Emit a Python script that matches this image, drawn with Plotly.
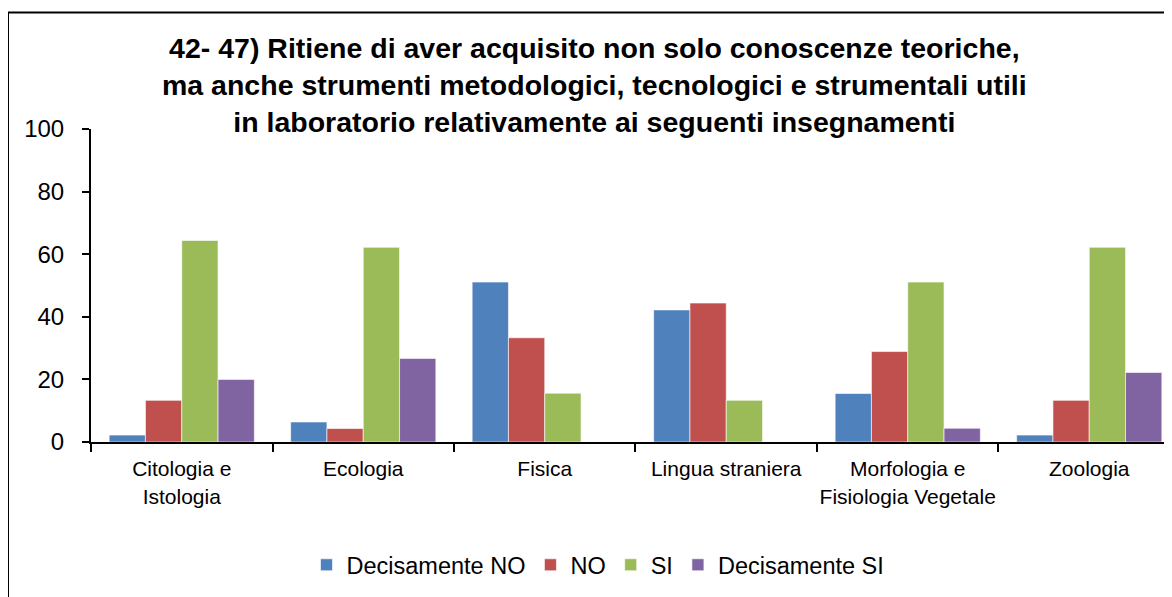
import plotly.graph_objects as go

categories = ["Citologia e<br>Istologia", "Ecologia", "Fisica", "Lingua straniera",
              "Morfologia e<br>Fisiologia Vegetale", "Zoologia"]
series_names = ["Decisamente NO", "NO", "SI", "Decisamente SI"]
dec_no = [2.2, 6.4, 51.1, 42.2, 15.5, 2.2]
no = [13.3, 4.3, 33.3, 44.4, 28.9, 13.3]
si = [64.4, 62.2, 15.6, 13.3, 51.1, 62.2]
dec_si = [20.0, 26.7, 0, 0, 4.4, 22.2]
colors = ["#4F81BD", "#C0504D", "#9BBB59", "#8064A2"]
yticks = [0, 20, 40, 60, 80, 100]

FONT = "Liberation Sans, Arial, sans-serif"

# figure pixel geometry (page has an 8px body margin)
L, T, B = 83, 121, 163
PW, PH = 1081, 313

fig = go.Figure()
for name, vals, col in zip(series_names, [dec_no, no, si, dec_si], colors):
    fig.add_trace(go.Bar(name=name, x=categories, y=vals,
                         marker=dict(color=col, line=dict(color="rgba(255,255,255,0.6)", width=1))))

fig.update_layout(
    width=1172, height=597,
    margin=dict(l=L, r=1172 - L - PW, t=T, b=B, pad=0),
    paper_bgcolor="white", plot_bgcolor="white",
    barmode="group", bargap=0.2, bargroupgap=0,
    font=dict(family=FONT, color="black"),
    showlegend=True,
    legend=dict(orientation="h", x=(590 - L) / PW, xanchor="center",
                y=(434 - 557) / PH, yanchor="middle",
                font=dict(size=23.5, family=FONT), itemwidth=30, tracegroupgap=0),
)
fig.update_xaxes(
    type="category", range=[-0.5, 5.456], tickangle=0,
    showline=True, linecolor="black", linewidth=2,
    ticks="outside", tickson="boundaries", ticklen=8, tickcolor="black", tickwidth=2,
    tickfont=dict(size=21, family=FONT), showgrid=False, ticklabelstandoff=7,
)
fig.update_yaxes(
    range=[0, 100], tickvals=yticks,
    showline=True, linecolor="black", linewidth=2,
    ticks="outside", ticklen=7, tickcolor="black", tickwidth=2,
    tickfont=dict(size=24, family=FONT), showgrid=False, zeroline=False,
    ticklabelstandoff=13,
)

fig.add_annotation(
    text="<b>42- 47) Ritiene di aver acquisito non solo conoscenze teoriche,<br>"
         "ma anche strumenti metodologici, tecnologici e strumentali utili<br>"
         "in laboratorio relativamente ai seguenti insegnamenti</b>",
    xref="paper", yref="paper", x=(586 - L) / PW, y=(434 - 77) / PH,
    xanchor="center", yanchor="middle",
    showarrow=False, font=dict(size=28.5, family=FONT, color="black"), align="center",
)

fig.add_shape(type="rect", xref="paper", yref="paper",
              x0=(0 - L) / PW, x1=1.05, y0=-0.6, y1=(434 - 4.5) / PH,
              line=dict(color="black", width=2), fillcolor="rgba(0,0,0,0)", layer="above")

fig.write_html("out.html")
